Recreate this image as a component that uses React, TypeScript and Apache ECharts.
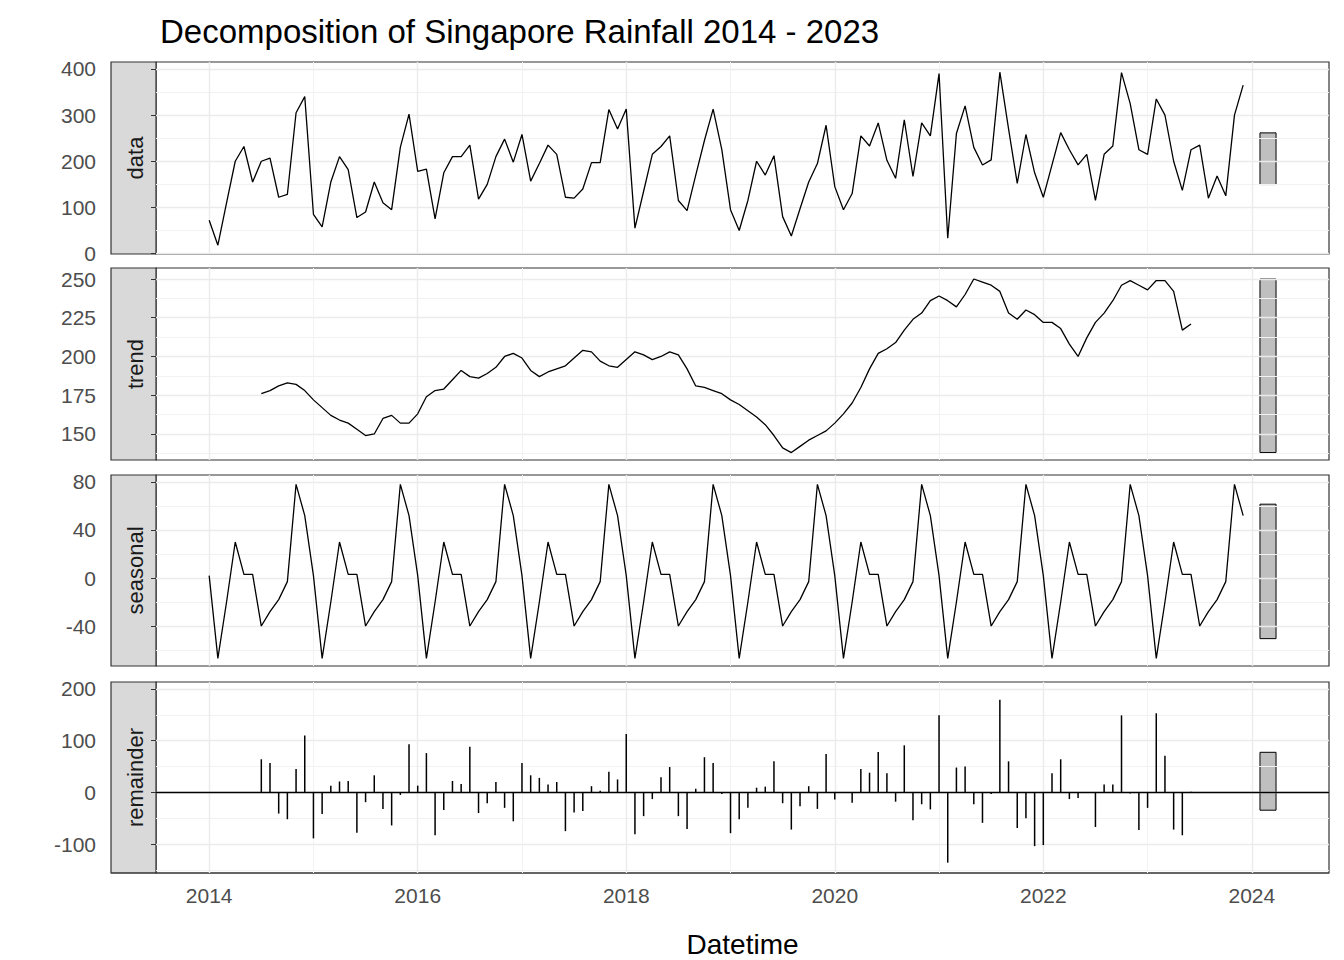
import React, { useEffect, useRef } from 'react';
import * as echarts from 'echarts';

// monthly rainfall (mm), Jan 2014 - Dec 2023
const rainfall: number[] = [
  72, 18, 110, 200, 232, 155, 200, 207, 122, 128, 305, 340,
  85, 58, 155, 210, 182, 78, 90, 155, 110, 95, 230, 302,
  178, 183, 75, 175, 210, 210, 235, 118, 150, 210, 248, 198,
  258, 157, 195, 235, 215, 122, 120, 140, 197, 197, 312, 270,
  313, 55, 135, 215, 232, 255, 115, 93, 170, 245, 313, 225,
  95, 50, 115, 200, 170, 212, 80, 38, 97, 155, 195, 278,
  145, 95, 130, 255, 233, 283, 202, 163, 290, 167, 283, 255,
  390, 33, 260, 320, 230, 192, 203, 393, 270, 152, 258, 175,
  122, 192, 262, 225, 192, 215, 115, 215, 233, 392, 325, 225,
  215, 335, 300, 200, 137, 225, 235, 120, 168, 125, 300, 365,
];

// trend, Jul 2014 - Jun 2023
const trendStart = 6;
const trend: number[] = [
  176, 178, 181, 183, 182, 178,
  172, 167, 162, 159, 157, 153, 149, 150, 160, 162, 157, 157,
  163, 174, 178, 179, 185, 191, 187, 186, 189, 193, 200, 202,
  199, 191, 187, 190, 192, 194, 199, 204, 203, 197, 194, 193,
  198, 203, 201, 198, 200, 203, 201, 192, 181, 180, 178, 176,
  172, 169, 165, 161, 156, 149, 141, 138, 142, 146, 149, 152,
  157, 163, 170, 180, 192, 202, 205, 209, 217, 224, 228, 236,
  239, 236, 232, 240, 250, 248, 246, 242, 228, 224, 230, 227,
  222, 222, 218, 208, 200, 212, 222, 228, 236, 246, 249, 246,
  243, 249, 249, 242, 217, 221,
];

// seasonal pattern, Jan - Dec
const seasonalPattern: number[] = [2, -67, -20, 30, 3, 3, -40, -28, -18, -3, 78, 52];

const yearTicks = [2014, 2016, 2018, 2020, 2022, 2024];
const yearMinor = [2015, 2017, 2019, 2021, 2023];

const panels = [
  { name: 'data', min: -1, max: 415.1, major: [0, 100, 200, 300, 400], minor: [50, 150, 250, 350] },
  { name: 'trend', min: 133.2, max: 257.1, major: [150, 175, 200, 225, 250], minor: [137.5, 162.5, 187.5, 212.5, 237.5] },
  { name: 'seasonal', min: -73.3, max: 85.8, major: [-40, 0, 40, 80], minor: [-60, -20, 20, 60] },
  { name: 'remainder', min: -156, max: 213.5, major: [-100, 0, 100, 200], minor: [-150, -50, 50, 150] },
];

const tops = [62, 268, 475, 682];
const heights = [192, 192, 191, 191];

const App: React.FC = () => {
  const ref = useRef<HTMLDivElement>(null);

  useEffect(() => {
    if (!ref.current) return;
    const chart = echarts.init(ref.current, null, { renderer: 'svg' });

    const t = (i: number) => 2014 + i / 12;
    const dataSeries = rainfall.map((v, i) => [t(i), v]);
    const trendSeries = trend.map((v, i) => [t(i + trendStart), v]);
    const seasonalSeries = rainfall.map((_, i) => [t(i), seasonalPattern[i % 12]]);
    const remainderSeries = trend.map((v, i) => {
      const k = i + trendStart;
      return [t(k), rainfall[k] - v - seasonalPattern[k % 12]];
    });
    const all = [dataSeries, trendSeries, seasonalSeries, remainderSeries];
    const ranges = all.map((s) => {
      const vals = s.map((p) => p[1]);
      return [Math.min(...vals), Math.max(...vals)];
    });
    const barLen = Math.min(...ranges.map((r) => r[1] - r[0]));

    const grid = tops.map((top, i) => ({
      left: 156, width: 1173, top, height: heights[i],
      show: true, borderColor: '#333', borderWidth: 1.2, backgroundColor: '#fff',
    }));

    const xAxis = tops.map((_, i) => ({
      type: 'value' as const, gridIndex: i, min: 2013.49, max: 2024.74,
      splitLine: { show: false },
      axisLine: { show: false },
      axisTick: { show: i === 3, customValues: yearTicks, length: 5, lineStyle: { color: '#333' } },
      axisLabel: {
        show: i === 3, customValues: yearTicks, formatter: (v: number) => String(Math.round(v)),
        color: '#4d4d4d', fontSize: 21, fontFamily: 'Liberation Sans', margin: 12,
      },
      name: i === 3 ? 'Datetime' : '',
      nameLocation: 'middle' as const, nameGap: 57,
      nameTextStyle: { color: '#000', fontSize: 28, fontFamily: 'Liberation Sans' },
    }));

    const yAxis = panels.map((p, i) => ({
      type: 'value' as const, gridIndex: i, min: p.min, max: p.max,
      splitLine: { show: false },
      axisLine: { show: false },
      axisTick: { show: true, customValues: p.major, length: 5, lineStyle: { color: '#333' } },
      axisLabel: { customValues: p.major, color: '#4d4d4d', fontSize: 21, fontFamily: 'Liberation Sans', margin: 60, align: 'right' as const },
    }));

    const series: any[] = [];
    panels.forEach((p, i) => {
      const center = (ranges[i][0] + ranges[i][1]) / 2;
      series.push({
        type: 'line', xAxisIndex: i, yAxisIndex: i, data: [], z: 1, silent: true,
        markLine: {
          z: 1, silent: true, symbol: 'none', animation: false, label: { show: false },
          data: [
            ...p.minor.map((v) => ({ yAxis: v, lineStyle: { color: '#f2f2f2', width: 1, type: 'solid' } })),
            ...p.major.map((v) => ({ yAxis: v, lineStyle: { color: '#ebebeb', width: 1.4, type: 'solid' } })),
            ...yearMinor.map((v) => ({ xAxis: v, lineStyle: { color: '#f2f2f2', width: 1, type: 'solid' } })),
            ...yearTicks.map((v) => ({ xAxis: v, lineStyle: { color: '#ebebeb', width: 1.4, type: 'solid' } })),
          ],
        },
        markArea: {
          z: 1, silent: true,
          itemStyle: { color: '#bfbfbf', borderColor: '#000', borderWidth: 1 },
          data: [[
            { coord: [2024.078, center - barLen / 2] },
            { coord: [2024.232, center + barLen / 2] },
          ]],
        },
      });
    });
    [0, 1, 2].forEach((i) => {
      series.push({
        type: 'line', xAxisIndex: i, yAxisIndex: i, data: all[i], z: 10,
        showSymbol: false, lineStyle: { color: '#000', width: 1.3 },
      });
    });
    series.push({
      type: 'bar', xAxisIndex: 3, yAxisIndex: 3, data: remainderSeries, z: 10,
      barWidth: 1.5, itemStyle: { color: '#000' },
      markLine: {
        z: 10, silent: true, symbol: 'none', label: { show: false },
        data: [{ yAxis: 0, lineStyle: { color: '#000', width: 1.3, type: 'solid' } }],
      },
    });

    const strips = panels.map((p, i) => ({
      type: 'group',
      children: [
        { type: 'rect', shape: { x: 111, y: tops[i], width: 45, height: heights[i] }, style: { fill: '#d9d9d9', stroke: '#333', lineWidth: 1.2 } },
        {
          type: 'text', x: 135, y: tops[i] + heights[i] / 2, rotation: Math.PI / 2,
          style: { text: p.name, fill: '#1a1a1a', fontSize: 22, fontFamily: 'Liberation Sans', align: 'center', verticalAlign: 'middle' },
        },
      ],
    }));

    chart.setOption({
      animation: false,
      title: {
        text: 'Decomposition of Singapore Rainfall 2014 - 2023', left: 155, top: 10,
        textStyle: { color: '#000', fontSize: 33, fontWeight: 'normal', fontFamily: 'Liberation Sans' },
      },
      grid, xAxis, yAxis, series,
      graphic: [
        ...strips,
        { type: 'line', shape: { x1: 111, y1: 873, x2: 1329, y2: 873 }, style: { stroke: '#333', lineWidth: 1.2 } },
      ],
    });

    return () => chart.dispose();
  }, []);

  return <div ref={ref} style={{ position: 'absolute', left: 0, top: 0, width: 1344, height: 960 }} />;
};

export default App;
